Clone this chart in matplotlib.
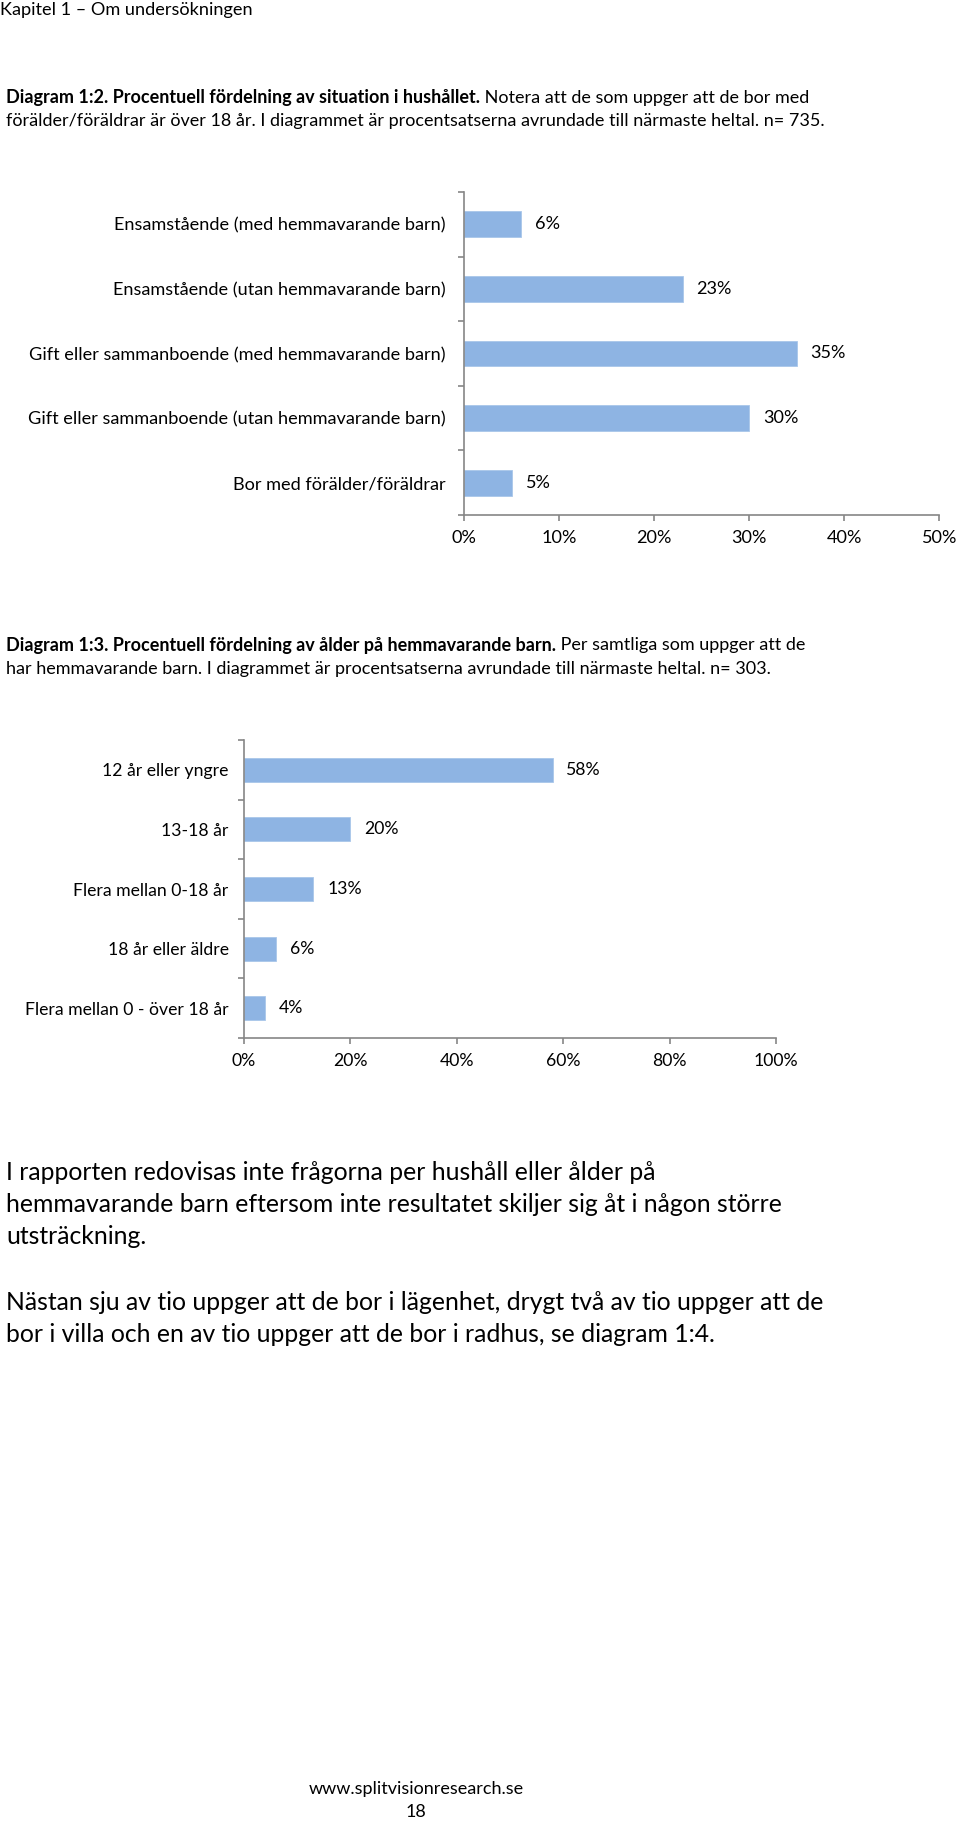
import matplotlib.pyplot as plt
import matplotlib.ticker as mticker

plt.rcParams['font.family'] = ['Lato', 'DejaVu Sans']

# Data
household_labels = [
    "Ensamstående (med hemmavarande barn)",
    "Ensamstående (utan hemmavarande barn)",
    "Gift eller sammanboende (med hemmavarande barn)",
    "Gift eller sammanboende (utan hemmavarande barn)",
    "Bor med förälder/föräldrar",
]
household_pct = [6, 23, 35, 30, 5]
household_ticks = [0, 10, 20, 30, 40, 50]

age_labels = [
    "12 år eller yngre",
    "13-18 år",
    "Flera mellan 0-18 år",
    "18 år eller äldre",
    "Flera mellan 0 - över 18 år",
]
age_pct = [58, 20, 13, 6, 4]
age_ticks = [0, 20, 40, 60, 80, 100]

W, H = 960, 1822
BAR = "#8EB4E3"
AXC = "#868686"

fig = plt.figure(figsize=(W / 100, H / 100), dpi=100)

# page overlay in pixel coordinates
page = fig.add_axes([0, 0, 1, 1])
page.set_xlim(0, W)
page.set_ylim(H, 0)
page.axis('off')


def px_axes(left, top, right, bottom):
    return fig.add_axes([left / W, 1 - bottom / H, (right - left) / W, (bottom - top) / H])


def bar_chart(ax, labels, values, ticks, fs, lab_pad):
    n = len(labels)
    pos = list(range(n))
    ax.barh(pos, values, height=0.4, color=BAR, edgecolor="#A9C6EA", linewidth=0.6)
    ax.set_ylim(n - 0.5, -0.5)
    ax.set_xlim(ticks[0], ticks[-1])
    for s in ['top', 'right']:
        ax.spines[s].set_visible(False)
    for s in ['left', 'bottom']:
        ax.spines[s].set_color(AXC)
        ax.spines[s].set_linewidth(1.2)
    ax.set_xticks(ticks)
    ax.xaxis.set_major_formatter(mticker.FuncFormatter(lambda v, p: f"{v:.0f}%"))
    ax.tick_params(axis='x', length=4, color=AXC, width=1.2, labelsize=fs, pad=7)
    ax.set_yticks([p - 0.5 for p in pos] + [n - 0.5])
    ax.set_yticklabels([])
    ax.tick_params(axis='y', which='major', length=4, color=AXC, width=1.2)
    ax.set_yticks(pos, minor=True)
    ax.set_yticklabels(labels, minor=True)
    ax.tick_params(axis='y', which='minor', length=0, labelsize=fs, pad=lab_pad)
    ax.patch.set_alpha(0)
    for p, v in zip(pos, values):
        ax.annotate(f"{v}%", xy=(v, p), xytext=(10, 0), textcoords='offset points',
                    va='center', ha='left', fontsize=fs)


# Header
page.text(0, 10, "Kapitel 1 – Om undersökningen", fontsize=13.1, va='center', ha='left')

CAP = 13


def caption(y1, y2, bold, rest, line2):
    t = page.text(6, y1, bold, fontsize=CAP, fontweight='bold', va='center', ha='left')
    page.annotate(rest, xy=(1, 0.5), xycoords=t, va='center', ha='left', fontsize=CAP)
    page.text(6, y2, line2, fontsize=CAP, va='center', ha='left')


caption(98, 121,
        "Diagram 1:2. Procentuell fördelning av situation i hushållet.",
        " Notera att de som uppger att de bor med",
        "förälder/föräldrar är över 18 år. I diagrammet är procentsatserna avrundade till närmaste heltal. n= 735.")

ax1 = px_axes(464, 192, 939, 515)
bar_chart(ax1, household_labels, household_pct, household_ticks, 13.1, 13)

caption(645, 669,
        "Diagram 1:3. Procentuell fördelning av ålder på hemmavarande barn.",
        " Per samtliga som uppger att de",
        "har hemmavarande barn. I diagrammet är procentsatserna avrundade till närmaste heltal. n= 303.")

ax2 = px_axes(244, 740, 776, 1038)
bar_chart(ax2, age_labels, age_pct, age_ticks, 12.7, 11)

# Body text
PFS = 17.8
para1 = ["I rapporten redovisas inte frågorna per hushåll eller ålder på",
         "hemmavarande barn eftersom inte resultatet skiljer sig åt i någon större",
         "utsträckning."]
para2 = ["Nästan sju av tio uppger att de bor i lägenhet, drygt två av tio uppger att de",
         "bor i villa och en av tio uppger att de bor i radhus, se diagram 1:4."]
for i, line in enumerate(para1):
    page.text(6, 1172 + i * 32.5, line, fontsize=PFS, va='center', ha='left')
for i, line in enumerate(para2):
    page.text(6, 1302 + i * 32.5, line, fontsize=PFS, va='center', ha='left')

# Footer
page.text(416, 1789, "www.splitvisionresearch.se", fontsize=13, va='center', ha='center')
page.text(416, 1812, "18", fontsize=13, va='center', ha='center')

fig.savefig("out.png", dpi=100, facecolor='white')
